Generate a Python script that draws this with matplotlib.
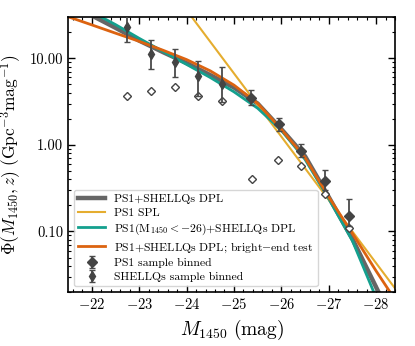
import matplotlib
matplotlib.use('Agg')
import matplotlib.pyplot as plt
import numpy as np
from matplotlib.ticker import FuncFormatter, MultipleLocator, LogLocator, NullFormatter

plt.rcParams['font.family'] = 'serif'
plt.rcParams['font.serif'] = ['cmr10']
plt.rcParams['mathtext.fontset'] = 'cm'
plt.rcParams['axes.unicode_minus'] = False
plt.rcParams['axes.formatter.use_mathtext'] = True

# model curves
m_dpl = [-22.06, -22.5, -23.0, -23.5, -24.0, -24.5, -25.0, -25.5, -26.0, -26.5, -27.0, -27.5, -28.05]
phi_dpl = [30, 22.5, 16.0, 11.8, 8.8, 6.4, 4.6, 3.0, 1.52, 0.74, 0.25, 0.082, 0.02]

m_spl = [-24.0, -28.5]
phi_spl = [36.0, 0.0186]

m_dpl26 = [-22.2, -22.5, -23.0, -23.5, -24.0, -24.5, -25.0, -25.5, -26.0, -26.5, -27.0, -27.5, -27.95]
phi_dpl26 = [30, 24.5, 17.0, 12.0, 8.5, 6.0, 4.1, 2.65, 1.48, 0.68, 0.24, 0.078, 0.02]

m_bright = [-21.5, -22.0, -22.5, -23.0, -23.5, -24.0, -24.5, -25.0, -25.5, -26.0, -26.5, -27.0, -27.5, -28.0, -28.32]
phi_bright = [30.2, 24.3, 19.5, 15.7, 12.4, 9.66, 7.16, 4.9, 3.02, 1.51, 0.71, 0.25, 0.095, 0.035, 0.019]

# binned samples
m_ps1 = [-25.35, -25.95, -26.42, -26.92, -27.42]
phi_ps1 = [3.51, 1.72, 0.86, 0.38, 0.149]
err_ps1_lo = [0.63, 0.27, 0.14, 0.08, 0.034]
err_ps1_hi = [0.8, 0.33, 0.17, 0.13, 0.088]

m_shq = [-22.75, -23.25, -23.75, -24.25, -24.75]
phi_shq = [22.8, 11.2, 9.0, 6.3, 5.1]
err_shq_lo = [7.5, 3.7, 2.9, 2.6, 2.0]
err_shq_hi = [8.5, 5.1, 3.7, 3.1, 2.8]

# raw (uncorrected) bins
m_raw = [-22.75, -23.25, -23.75, -24.25, -24.75, -25.38, -25.94, -26.42, -26.92, -27.42]
phi_raw = [3.7, 4.18, 4.63, 3.7, 3.24, 0.40, 0.676, 0.567, 0.271, 0.109]

fig = plt.figure(figsize=(4.15, 3.46), dpi=100)
ax = fig.add_axes([0.164, 0.156, 0.788, 0.795])

ax.plot(m_dpl, phi_dpl, color='#666666', lw=3.2, label='PS1+SHELLQs DPL', zorder=2)
ax.plot(m_spl, phi_spl, color='#e5ad2f', lw=1.5, label='PS1 SPL', zorder=2)
ax.plot(m_dpl26, phi_dpl26, color='#14a08e', lw=2, label=r'PS1(M$_{1450} < -$26)+SHELLQs DPL', zorder=2)
ax.plot(m_bright, phi_bright, color='#dc6310', lw=2, label=r'PS1+SHELLQs DPL; bright$-$end test', zorder=2)

ax.errorbar(m_ps1, phi_ps1, yerr=[err_ps1_lo, err_ps1_hi], fmt='D', ms=5, color='#444444',
            ecolor='#4a4a4a', elinewidth=1.3, capsize=2, label='PS1 sample binned', zorder=4)
ax.errorbar(m_shq, phi_shq, yerr=[err_shq_lo, err_shq_hi], fmt='d', ms=5, color='#444444',
            ecolor='#4a4a4a', elinewidth=1.3, capsize=2, label='SHELLQs sample binned', zorder=4)
ax.plot(m_raw, phi_raw, 'D', ms=4.5, mfc='white', mec='#444444', mew=1.0, ls='none', zorder=3)

ax.set_yscale('log')
ax.set_xlim(-21.5, -28.4)
ax.set_ylim(0.02, 30)

ax.xaxis.set_major_locator(MultipleLocator(1))
ax.xaxis.set_minor_locator(MultipleLocator(0.2))
ax.xaxis.set_major_formatter(FuncFormatter(lambda x, p: r'$%d$' % round(x)))
ax.yaxis.set_major_locator(LogLocator(base=10))
ax.yaxis.set_minor_locator(LogLocator(base=10, subs=np.arange(2, 10)))
ax.yaxis.set_major_formatter(FuncFormatter(lambda y, p: '%.2f' % y))
ax.yaxis.set_minor_formatter(NullFormatter())

ax.tick_params(which='both', direction='in', top=True, right=True, labelsize=10.5)
ax.tick_params(which='major', length=5, width=1)
ax.tick_params(which='minor', length=2.5, width=0.8)
for s in ax.spines.values():
    s.set_linewidth(1.2)

ax.set_xlabel(r'$M_{1450}\ (\rm{mag})$', fontsize=14)
ax.set_ylabel(r'$\Phi(M_{1450},z)\ (\rm{Gpc}^{-3}\rm{mag}^{-1})$', fontsize=12.5)

ax.legend(loc='lower left', fontsize=8.45, handlelength=2.3, labelspacing=0.3,
          borderpad=0.35, handletextpad=0.8, framealpha=0.8)

fig.savefig('out.png', dpi=100)
